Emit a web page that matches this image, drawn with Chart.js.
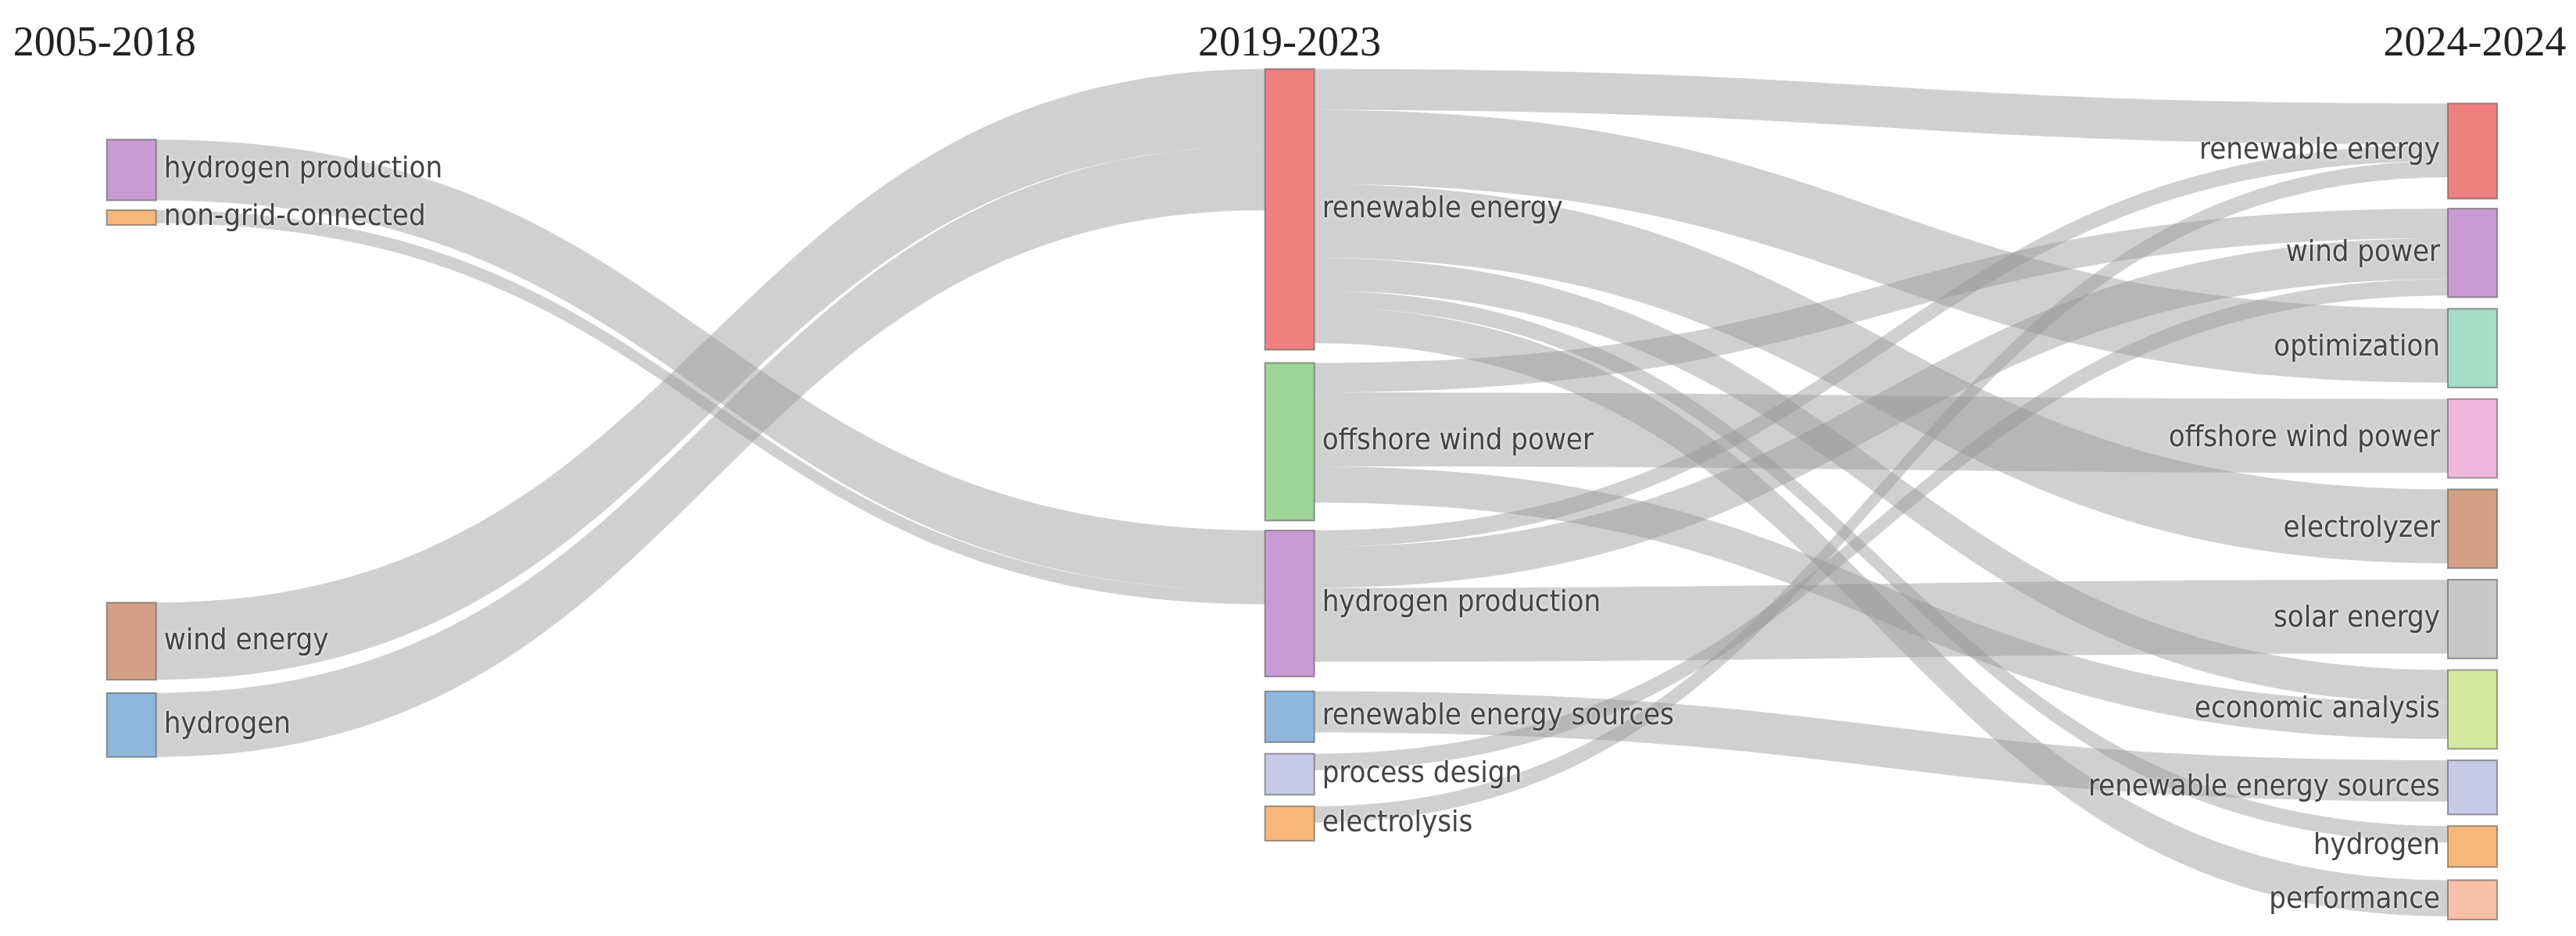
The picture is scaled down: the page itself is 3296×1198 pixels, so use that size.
<!DOCTYPE html>
<html><head><meta charset="utf-8">
<script src="https://cdn.jsdelivr.net/npm/chart.js@4.4.1/dist/chart.umd.min.js"></script>
<style>html,body{margin:0;padding:0;background:#fff}canvas{display:block}</style>
</head><body>
<canvas id="c" width="3296" height="1198"></canvas>
<script>
const columnTitles = ['2005-2018', '2019-2023', '2024-2024'];
const nodeNames = ['hydrogen production','non-grid-connected','wind energy','hydrogen',
  'renewable energy','offshore wind power','hydrogen production','renewable energy sources','process design','electrolysis',
  'renewable energy','wind power','optimization','offshore wind power','electrolyzer','solar energy','economic analysis','renewable energy sources','hydrogen','performance'];
const nodeColumn = [0,0,0,0, 1,1,1,1,1,1, 2,2,2,2,2,2,2,2,2,2];
const nodeSize = [37,9,47,39, 171,96,89,31,25,21, 58,54,48,48,48,48,48,33,25,24];
const nodeColors = ['#c99bd4','#f8b77a','#d4a085','#8fb6dc',
  '#ee8080','#9ed69a','#c99bd4','#8fb6dc','#c6cbe8','#f8b77a',
  '#ee8080','#c99bd4','#a6dcc8','#f0b8dc','#d4a085','#c8c8c8','#d4e8a0','#c6cbe8','#f8b77a','#f8c0a8'];
const linkSource = [0,1,2,3, 4,4,4,4,4,4, 5,5,5, 6,6,6, 7,8,9];
const linkTarget = [6,6,4,4, 10,12,14,16,18,19, 11,13,16, 10,11,15, 17,11,10];
const linkValue  = [37,8,47,39, 25,45,45,20,10,22, 18,45,22, 10,25,45, 25,10,10];

// layout (not data): node top positions in the value space
const nodeTop = [85,128,367,422, 42,221,323,421,459,491, 63,127,188,243,298,353,408,463,503,536];
const colX = [65, 770, 1490], nodeW = 30;

const sankeyPlugin = {
  id: 'sankey',
  afterDatasetsDraw(chart) {
    const ctx = chart.ctx, xs = chart.scales.x, ys = chart.scales.y;
    const X = v => xs.getPixelForValue(v), Y = v => ys.getPixelForValue(v);
    const idx = linkValue.map((_, i) => i);
    const srcOrder = idx.slice().sort((a, b) => nodeTop[linkTarget[a]] - nodeTop[linkTarget[b]]);
    const tgtOrder = idx.slice().sort((a, b) => nodeTop[linkSource[a]] - nodeTop[linkSource[b]]);
    const sy = [], ty = [];
    const acc1 = {}, acc2 = {};
    srcOrder.forEach(i => { const s = linkSource[i]; acc1[s] = acc1[s] || 0; sy[i] = nodeTop[s] + acc1[s]; acc1[s] += linkValue[i]; });
    tgtOrder.forEach(i => { const t = linkTarget[i]; acc2[t] = acc2[t] || 0; ty[i] = nodeTop[t] + acc2[t]; acc2[t] += linkValue[i]; });
    ctx.save();
    idx.forEach(i => {
      const s = linkSource[i], t = linkTarget[i], v = linkValue[i];
      const x0 = X(colX[nodeColumn[s]] + nodeW), x1 = X(colX[nodeColumn[t]]);
      const xm = (x0 + x1) / 2;
      const a0 = Y(sy[i]), a1 = Y(sy[i] + v), b0 = Y(ty[i]), b1 = Y(ty[i] + v);
      ctx.beginPath();
      ctx.moveTo(x0, a0);
      ctx.bezierCurveTo(xm, a0, xm, b0, x1, b0);
      ctx.lineTo(x1, b1);
      ctx.bezierCurveTo(xm, b1, xm, a1, x0, a1);
      ctx.closePath();
      ctx.fillStyle = 'rgba(150,150,150,0.45)';
      ctx.fill();
    });
    nodeNames.forEach((n, i) => {
      const c = nodeColumn[i];
      const x0 = X(colX[c]), x1 = X(colX[c] + nodeW), y0 = Y(nodeTop[i]), y1 = Y(nodeTop[i] + nodeSize[i]);
      ctx.fillStyle = nodeColors[i];
      ctx.fillRect(x0, y0, x1 - x0, y1 - y0);
      ctx.strokeStyle = 'rgba(90,90,90,0.6)';
      ctx.lineWidth = 2;
      ctx.strokeRect(x0, y0, x1 - x0, y1 - y0);
      ctx.font = '38px "DejaVu Sans Condensed", "DejaVu Sans", sans-serif';
      ctx.textBaseline = 'middle';
      ctx.fillStyle = '#444';
      ctx.shadowColor = 'rgba(255,255,255,0.9)'; ctx.shadowBlur = 4;
      if (c === 2) { ctx.textAlign = 'right'; ctx.fillText(n, x0 - 10, (y0 + y1) / 2); }
      else { ctx.textAlign = 'left'; ctx.fillText(n, x1 + 10, (y0 + y1) / 2); }
      ctx.shadowBlur = 0;
    });
    ctx.font = '54px "Liberation Serif", serif';
    ctx.fillStyle = '#222';
    ctx.textBaseline = 'middle';
    ctx.textAlign = 'left'; ctx.fillText(columnTitles[0], X(8), Y(27));
    ctx.textAlign = 'center'; ctx.fillText(columnTitles[1], X(785), Y(27));
    ctx.textAlign = 'right'; ctx.fillText(columnTitles[2], X(1562), Y(27));
    ctx.restore();
  }
};

new Chart(document.getElementById('c'), {
  type: 'scatter',
  data: { datasets: [{ data: [] }] },
  options: {
    responsive: false, devicePixelRatio: 1, animation: false,
    layout: { padding: 0 },
    plugins: { legend: { display: false }, tooltip: { enabled: false } },
    scales: {
      x: { type: 'linear', min: 0, max: 1568, display: false },
      y: { type: 'linear', min: 0, max: 570, reverse: true, display: false }
    }
  },
  plugins: [sankeyPlugin]
});
</script>
</body></html>
